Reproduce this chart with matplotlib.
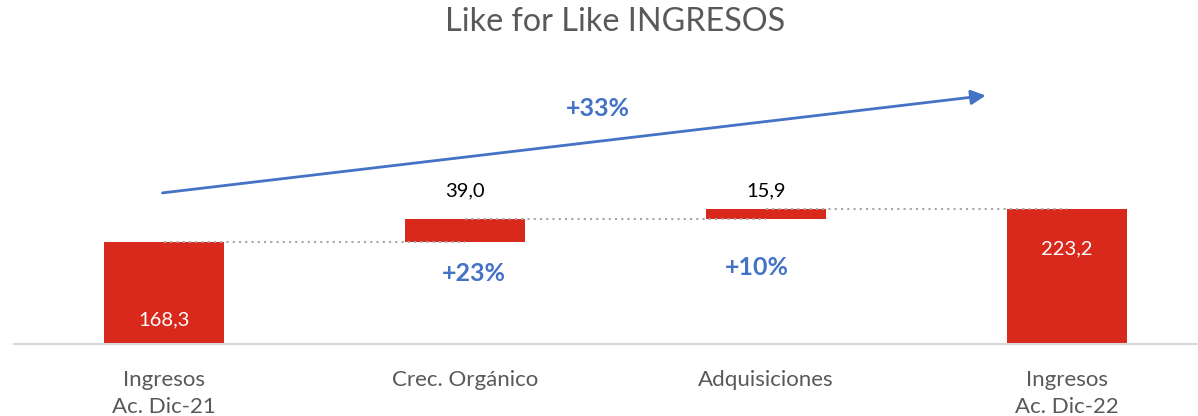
import numpy as np
import matplotlib
matplotlib.use("Agg")
import matplotlib.pyplot as plt

# ── Data ──────────────────────────────────────────────────────────────────────
categories = ["Ingresos\nAc. Dic-21", "Crec. Orgánico", "Adquisiciones",
              "Ingresos\nAc. Dic-22"]
values     = [168.3, 39.0, 15.9, 223.2]
is_total   = [True, False, False, True]
value_text = ["168,3", "39,0", "15,9", "223,2"]
pct_steps  = ["+23%", "+10%"]
pct_total  = "+33%"

RED   = "#D9291C"
BLUE  = "#4472C4"
GREY  = "#595959"

plt.rcParams["font.family"] = ["Lato", "DejaVu Sans"]

# ── Waterfall geometry ────────────────────────────────────────────────────────
x = np.arange(len(categories))
bottoms, heights, tops = [], [], []
level = 0.0
for v, tot in zip(values, is_total):
    if tot:
        bottoms.append(0.0)
        heights.append(v)
        level = v
    else:
        bottoms.append(level)
        heights.append(v)
        level += v
    tops.append(bottoms[-1] + heights[-1])

# ── Plot ──────────────────────────────────────────────────────────────────────
fig = plt.figure(figsize=(11.98, 4.16), dpi=100)
ax = fig.add_axes([13.5 / 1198, 0, 1204 / 1198, 1])
ax.set_xlim(-0.5, 3.5)
ax.set_ylim(-119, 569)

ax.bar(x, heights, bottom=bottoms, width=0.4, color=RED, zorder=2)

# dotted connectors between bar centres
for i in range(len(x) - 1):
    ax.plot([x[i], x[i + 1]], [tops[i], tops[i]], color="#A6A6A6",
            lw=1.5, linestyle=(0, (1, 2)), zorder=3)

# value labels
ax.text(x[0], 40, value_text[0], color="white", fontsize=14.5,
        ha="center", va="center")
ax.text(x[3], 157, value_text[3], color="white", fontsize=14.5,
        ha="center", va="center")
ax.text(x[1], 253, value_text[1], color="black", fontsize=14.5,
        ha="center", va="center")
ax.text(x[2], 253, value_text[2], color="black", fontsize=14.5,
        ha="center", va="center")

# growth labels
ax.text(1.03, 117, pct_steps[0], color=BLUE, fontsize=18,
        fontweight="bold", ha="center", va="center")
ax.text(1.97, 126, pct_steps[1], color=BLUE, fontsize=18,
        fontweight="bold", ha="center", va="center")
ax.text(1.44, 390, pct_total, color=BLUE, fontsize=18,
        fontweight="bold", ha="center", va="center")

# overall growth arrow
ax.annotate("", xy=(2.73, 411), xytext=(-0.005, 250),
            arrowprops=dict(arrowstyle="-|>", color=BLUE, lw=2,
                            mutation_scale=22, shrinkA=0, shrinkB=0))

# axis styling
for s in ["top", "right", "left"]:
    ax.spines[s].set_visible(False)
ax.spines["bottom"].set_position(("data", 0))
ax.spines["bottom"].set_color("#D9D9D9")
ax.spines["bottom"].set_linewidth(1.5)
ax.set_yticks([])
ax.set_xticks(x)
ax.set_xticklabels(categories, color=GREY, fontsize=16, linespacing=1.38)
ax.tick_params(axis="x", length=0, pad=19)

fig.text(615 / 1198, 1 - 22 / 416, "Like for Like INGRESOS", color=GREY,
         fontsize=23.3, ha="center", va="center")

fig.savefig("out.png", dpi=100)
